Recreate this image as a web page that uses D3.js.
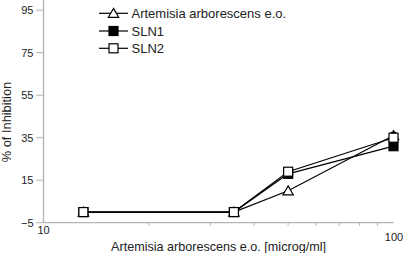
<!DOCTYPE html>
<meta charset="utf-8">
<style>
body { margin: 0; background: #fff; }
text { font-family: "Liberation Sans", Arial, sans-serif; }
</style>
<body>
<script src="https://cdnjs.cloudflare.com/ajax/libs/d3/7.8.5/d3.min.js"></script>
<script>
// concentrations (microg/ml)
var conc = [13, 35, 50, 100];
var artemisia = [0, 0, 10, 36];
var sln1 = [0, 0, 18, 31];
var sln2 = [0, 0, 19, 35];
var sln2Err = [0, 0, 0, 2.5];
var yTicks = [-5, 15, 35, 55, 75, 95];
var xMinor = [20, 30, 40, 50, 60, 70, 80, 90];
var seriesNames = ["Artemisia arborescens e.o.", "SLN1", "SLN2"];

var width = 403, height = 253;
var svg = d3.select("body").append("svg")
  .attr("width", width)
  .attr("height", height);

var x = d3.scaleLog().domain([10, 100]).range([43.5, 393.5]);
var y = d3.scaleLinear().domain([-5, 95]).range([222.7, 10.2]);
var axisCol = "#b4b4b4", txtCol = "#222";

// axes lines
svg.append("line").attr("x1", 43.5).attr("x2", 43.5).attr("y1", 0).attr("y2", y(-5))
  .attr("stroke", axisCol).attr("stroke-width", 1.3);
svg.append("line").attr("x1", 43.5).attr("x2", x(100)).attr("y1", y(-5)).attr("y2", y(-5))
  .attr("stroke", axisCol).attr("stroke-width", 1.3);

// y ticks
svg.selectAll(".yt").data(yTicks).enter().append("line")
  .attr("x1", 36).attr("x2", 43.5)
  .attr("y1", function(d) { return y(d); }).attr("y2", function(d) { return y(d); })
  .attr("stroke", axisCol);
svg.selectAll(".yl").data(yTicks).enter().append("text")
  .attr("x", 33.5).attr("y", function(d) { return y(d) + 4; })
  .attr("text-anchor", "end").attr("font-size", 11).attr("fill", txtCol)
  .text(function(d) { return d < 0 ? "\u2212" + Math.abs(d) : d; });

// x minor ticks
svg.selectAll(".xt").data(xMinor).enter().append("line")
  .attr("x1", function(d) { return x(d); }).attr("x2", function(d) { return x(d); })
  .attr("y1", y(-5)).attr("y2", y(-5) + 3)
  .attr("stroke", axisCol);
svg.append("text").attr("x", x(10)).attr("y", 234).attr("text-anchor", "middle")
  .attr("font-size", 11).attr("fill", txtCol).text("10");
svg.append("text").attr("x", 394).attr("y", 241).attr("text-anchor", "middle")
  .attr("font-size", 11).attr("fill", txtCol).text("100");

// axis titles
svg.append("text").attr("x", 218.5).attr("y", 250.5).attr("text-anchor", "middle")
  .attr("font-size", 12.6).attr("fill", txtCol).text("Artemisia arborescens e.o. [microg/ml]");
svg.append("text").attr("transform", "translate(10.5,122) rotate(-90)")
  .attr("text-anchor", "middle").attr("font-size", 12.8).attr("fill", txtCol)
  .text("% of Inhibition");

var line = d3.line()
  .x(function(d, i) { return x(conc[i]); })
  .y(function(d) { return y(d); });

var tri = d3.symbol().type(d3.symbolTriangle).size(46);

function drawMarker(g, kind, cx, cy) {
  if (kind === "tri") {
    g.append("path").attr("d", tri).attr("transform", "translate(" + cx + "," + (cy + 1) + ")")
      .attr("fill", "#fff").attr("stroke", "#000").attr("stroke-width", 1.2);
  } else {
    g.append("rect").attr("x", cx - 4.5).attr("y", cy - 4.5).attr("width", 9).attr("height", 9)
      .attr("fill", kind === "fill" ? "#000" : "#fff").attr("stroke", "#000").attr("stroke-width", 1.2);
  }
}

var series = [
  { vals: artemisia, kind: "tri" },
  { vals: sln1, kind: "fill" },
  { vals: sln2, kind: "open", err: sln2Err }
];

series.forEach(function(s) {
  var g = svg.append("g");
  g.append("path").datum(s.vals).attr("d", line)
    .attr("fill", "none").attr("stroke", "#000").attr("stroke-width", 1.2);
  if (s.err) {
    s.vals.forEach(function(v, i) {
      if (!s.err[i]) return;
      var cx = x(conc[i]);
      g.append("line").attr("x1", cx).attr("x2", cx).attr("y1", y(v - s.err[i])).attr("y2", y(v + s.err[i]))
        .attr("stroke", "#000");
      g.append("line").attr("x1", cx - 3).attr("x2", cx + 3).attr("y1", y(v + s.err[i])).attr("y2", y(v + s.err[i]))
        .attr("stroke", "#000");
    });
  }
  s.vals.forEach(function(v, i) { drawMarker(g, s.kind, x(conc[i]), y(v)); });
});

// legend
var legY = [13.3, 31, 48.3];
series.forEach(function(s, i) {
  var g = svg.append("g");
  g.append("line").attr("x1", 99).attr("x2", 128).attr("y1", legY[i]).attr("y2", legY[i])
    .attr("stroke", "#000").attr("stroke-width", 1.2);
  drawMarker(g, s.kind, 113.5, legY[i]);
  g.append("text").attr("x", 131.5).attr("y", legY[i] + 4.6).attr("font-size", 13).attr("fill", txtCol)
    .text(seriesNames[i]);
});
</script>
</body>
